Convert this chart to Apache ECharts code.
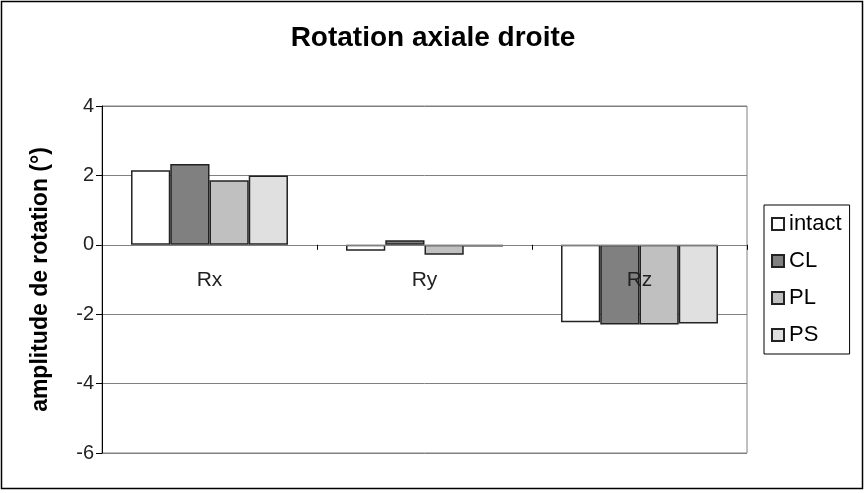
<!DOCTYPE html>
<html><head><meta charset="utf-8">
<script src="https://cdn.jsdelivr.net/npm/echarts@6/dist/echarts.min.js"></script>
<style>html,body{margin:0;padding:0;background:#fff}#c{width:866px;height:493px}</style>
</head><body><div id="c"></div>
<script>
const categories = ['Rx', 'Ry', 'Rz'];
const intact = [2.15, -0.17, -2.23];
const CL = [2.33, 0.13, -2.30];
const PL = [1.86, -0.29, -2.30];
const PS = [2.0, -0.05, -2.27];
const seriesNames = ['intact', 'CL', 'PL', 'PS'];
const seriesColors = ['#ffffff', '#808080', '#c0c0c0', '#e0e0e0'];
const yTicks = { min: -6, max: 4, interval: 2 };

const FONT = 'Liberation Sans';
const chart = echarts.init(document.getElementById('c'));
const dataSets = [intact, CL, PL, PS];
chart.setOption({
  animation: false,
  backgroundColor: '#fff',
  title: {
    text: 'Rotation axiale droite', left: 'center', top: 19,
    textStyle: { fontFamily: FONT, fontSize: 28, fontWeight: 'bold', color: '#000' }
  },
  graphic: [{
    type: 'rect', shape: { x: 1.5, y: 1.5, width: 861, height: 487 },
    style: { fill: 'none', stroke: '#000', lineWidth: 1.5 }, silent: true, z: -1
  }],
  grid: { left: 102, right: 119, top: 106, bottom: 40, show: true, borderColor: '#808080', borderWidth: 1, backgroundColor: 'transparent' },
  legend: {
    orient: 'vertical', left: 764, top: 205,
    data: seriesNames, icon: 'rect', itemWidth: 12, itemHeight: 12, itemGap: 15,
    padding: [8, 8, 8, 7], borderColor: '#000', borderWidth: 1,
    textStyle: { fontFamily: FONT, fontSize: 22, color: '#000' }
  },
  xAxis: [{
    type: 'category', data: categories, z: 10,
    axisLine: { onZero: true, lineStyle: { color: '#808080', width: 1 } },
    axisTick: { show: true, length: 5, lineStyle: { color: '#000' } },
    axisLabel: { show: false },
    splitLine: { show: false }
  }, {
    type: 'category', data: categories, z: 10, position: 'bottom', offset: -208,
    axisLine: { show: false }, axisTick: { show: false },
    axisLabel: { margin: 25, fontFamily: FONT, fontSize: 21, color: '#222' },
    splitLine: { show: false }
  }],
  yAxis: {
    type: 'value', min: yTicks.min, max: yTicks.max, interval: yTicks.interval,
    name: 'amplitude de rotation (°)', nameLocation: 'middle', nameGap: 50,
    nameTextStyle: { fontFamily: FONT, fontSize: 23, fontWeight: 'bold', color: '#000' },
    axisLine: { show: true, lineStyle: { color: '#000', width: 1 } },
    axisTick: { show: true, length: 6, lineStyle: { color: '#000' } },
    axisLabel: { margin: 8, fontFamily: FONT, fontSize: 20, color: '#222' },
    splitLine: { show: true, lineStyle: { color: '#808080', width: 1 } }
  },
  series: seriesNames.map((n, i) => ({
    name: n, type: 'bar', data: dataSets[i], xAxisIndex: 0,
    barGap: '0%', barCategoryGap: '27%',
    itemStyle: { color: seriesColors[i], borderColor: '#222', borderWidth: 1.5 }
  }))
});
</script></body></html>
